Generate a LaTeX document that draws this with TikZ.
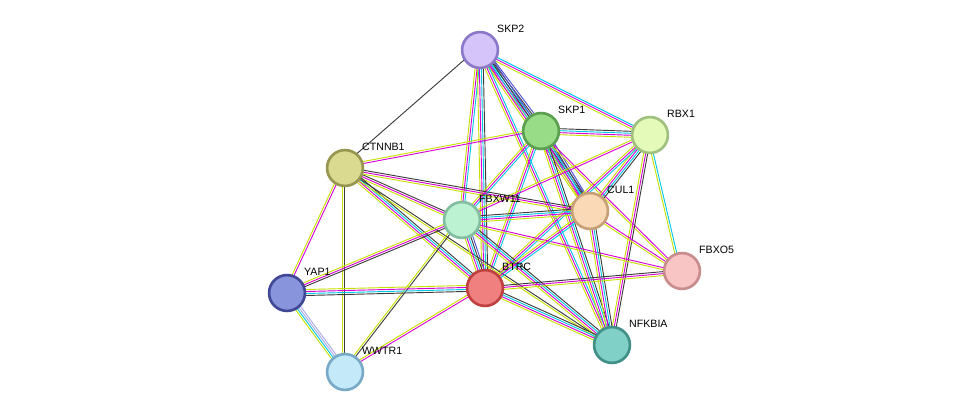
\documentclass[tikz,border=0pt]{standalone}
\usepackage{fontspec}
\setmainfont{Liberation Sans}
\usetikzlibrary{calc}
\definecolor{txt}{RGB}{199,224,0}
\definecolor{exp}{RGB}{215,0,215}
\definecolor{db}{RGB}{0,200,230}
\definecolor{coex}{RGB}{60,60,60}
\definecolor{cooc}{RGB}{80,80,210}
\definecolor{hom}{RGB}{170,170,230}
\newcommand\ppi[3]{%
  \foreach \c [count=\i] in {#3}{%
    \pgfmathsetmacro\o{(\i-2.5)*1.5}%
    \draw[\c, line width=0.7pt] ($(#1)!\o pt!90:(#2)$) -- ($(#2)!\o pt!-90:(#1)$);}}
\begin{document}
\begin{tikzpicture}[x=0.0265cm, y=-0.0265cm,
    prot/.style={circle, line width=2pt, inner sep=0pt, minimum size=0.95cm},
    lbl/.style={font=\footnotesize, anchor=south west, inner sep=1pt}]
  \useasboundingbox (0,0) rectangle (976,417);
  % positions
  \coordinate (skp2) at (480,50);
  \coordinate (skp1) at (541,131);
  \coordinate (rbx1) at (650,135);
  \coordinate (ctnnb1) at (345,168);
  \coordinate (fbxw11) at (462,220);
  \coordinate (cul1) at (590,211);
  \coordinate (fbxo5) at (682,271);
  \coordinate (yap1) at (287,293);
  \coordinate (btrc) at (485,288);
  \coordinate (nfkbia) at (612,345);
  \coordinate (wwtr1) at (345,372);
  % edges
  \ppi{skp2}{skp1}{txt,exp,db,coex,cooc}
  \ppi{skp2}{ctnnb1}{coex}
  \ppi{skp2}{fbxw11}{txt,exp,db}
  \ppi{skp2}{btrc}{txt,exp,db,coex}
  \ppi{skp2}{cul1}{txt,exp,db,coex,cooc}
  \ppi{skp2}{rbx1}{txt,exp,db}
  \ppi{skp2}{nfkbia}{txt,exp,db}
  \ppi{skp1}{rbx1}{txt,exp,db,coex}
  \ppi{skp1}{cul1}{txt,exp,db,coex,cooc}
  \ppi{skp1}{fbxw11}{txt,exp,db}
  \ppi{skp1}{btrc}{txt,exp,db}
  \ppi{skp1}{nfkbia}{txt,exp,db,coex}
  \ppi{skp1}{fbxo5}{txt,exp}
  \ppi{skp1}{ctnnb1}{txt,exp}
  \ppi{rbx1}{cul1}{txt,exp,db,coex}
  \ppi{rbx1}{fbxw11}{txt,exp}
  \ppi{rbx1}{btrc}{txt,exp,db}
  \ppi{rbx1}{nfkbia}{txt,exp,coex}
  \ppi{rbx1}{fbxo5}{txt,db}
  \ppi{ctnnb1}{fbxw11}{txt,exp,coex}
  \ppi{ctnnb1}{btrc}{txt,exp,db,coex}
  \ppi{ctnnb1}{cul1}{txt,exp,coex}
  \ppi{ctnnb1}{yap1}{txt,exp}
  \ppi{ctnnb1}{wwtr1}{txt,coex}
  \ppi{ctnnb1}{nfkbia}{txt,coex}
  \ppi{fbxw11}{cul1}{txt,exp,db,coex}
  \ppi{fbxw11}{btrc}{txt,exp,db,coex,cooc}
  \ppi{fbxw11}{yap1}{txt,exp,coex}
  \ppi{fbxw11}{wwtr1}{txt,coex}
  \ppi{fbxw11}{nfkbia}{txt,exp,db,coex}
  \ppi{fbxw11}{fbxo5}{txt,exp}
  \ppi{cul1}{btrc}{txt,exp,db}
  \ppi{cul1}{nfkbia}{txt,exp,db,coex}
  \ppi{cul1}{fbxo5}{txt,exp}
  \ppi{btrc}{yap1}{txt,exp,db,coex}
  \ppi{btrc}{wwtr1}{txt,exp}
  \ppi{btrc}{nfkbia}{txt,exp,db,coex}
  \ppi{btrc}{fbxo5}{txt,exp,coex}
  \ppi{yap1}{wwtr1}{txt,db,hom,hom}
  % proteins
  \node[prot, fill={rgb,255:red,212;green,196;blue,250}, draw={rgb,255:red,140;green,120;blue,200}] (SKP2) at (skp2) {};
  \node[prot, fill={rgb,255:red,152;green,220;blue,136}, draw={rgb,255:red,90;green,160;blue,80}] (SKP1) at (skp1) {};
  \node[prot, fill={rgb,255:red,228;green,250;blue,184}, draw={rgb,255:red,160;green,192;blue,128}] (RBX1) at (rbx1) {};
  \node[prot, fill={rgb,255:red,218;green,218;blue,144}, draw={rgb,255:red,150;green,150;blue,80}] (CTNNB1) at (ctnnb1) {};
  \node[prot, fill={rgb,255:red,188;green,242;blue,210}, draw={rgb,255:red,130;green,190;blue,160}] (FBXW11) at (fbxw11) {};
  \node[prot, fill={rgb,255:red,250;green,218;blue,182}, draw={rgb,255:red,200;green,160;blue,120}] (CUL1) at (cul1) {};
  \node[prot, fill={rgb,255:red,248;green,196;blue,196}, draw={rgb,255:red,200;green,140;blue,140}] (FBXO5) at (fbxo5) {};
  \node[prot, fill={rgb,255:red,136;green,148;blue,220}, draw={rgb,255:red,64;green,72;blue,150}] (YAP1) at (yap1) {};
  \node[prot, fill={rgb,255:red,240;green,128;blue,128}, draw={rgb,255:red,190;green,64;blue,64}] (BTRC) at (btrc) {};
  \node[prot, fill={rgb,255:red,128;green,208;blue,200}, draw={rgb,255:red,64;green,144;blue,136}] (NFKBIA) at (nfkbia) {};
  \node[prot, fill={rgb,255:red,196;green,234;blue,250}, draw={rgb,255:red,120;green,170;blue,200}] (WWTR1) at (wwtr1) {};
  % labels
  \foreach \n/\t in {SKP2/SKP2, SKP1/SKP1, RBX1/RBX1, CTNNB1/CTNNB1, FBXW11/FBXW11, CUL1/CUL1,
      FBXO5/FBXO5, YAP1/YAP1, BTRC/BTRC, NFKBIA/NFKBIA, WWTR1/WWTR1}
    \node[lbl] at ($(\n.north east)+(2,-2)$) {\t};
\end{tikzpicture}
\end{document}
